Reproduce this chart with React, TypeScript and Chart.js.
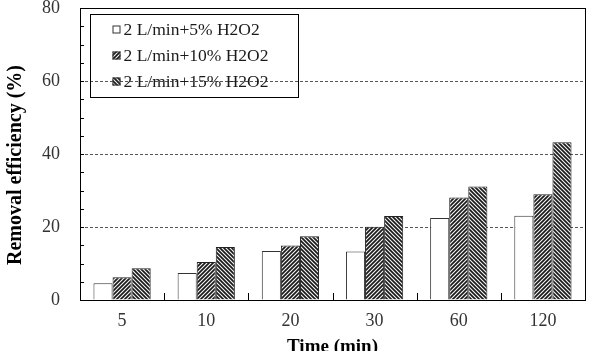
import { useEffect, useRef } from "react";
import { Chart, registerables } from "chart.js";
Chart.register(...registerables);

const categories = ["5", "10", "20", "30", "60", "120"];
const seriesLabels = ["2 L/min+5% H2O2", "2 L/min+10% H2O2", "2 L/min+15% H2O2"];
const series5 = [4.6, 7.4, 13.4, 13.3, 22.5, 23.1];
const series10 = [6.2, 10.4, 14.9, 20.1, 28.1, 29.0];
const series15 = [8.7, 14.5, 17.5, 23.0, 31.1, 43.2];
const yTicks = [0, 20, 40, 60, 80];
const yMinorStep = 5;
const yTitle = "Removal efficiency (%)";
const xTitle = "Time (min)";

const SERIF = "'Liberation Serif', 'Times New Roman', serif";

function hatch(dir: number) {
  const s = 4;
  const c = document.createElement("canvas");
  c.width = s;
  c.height = s;
  const g = c.getContext("2d")!;
  g.fillStyle = "#f4f4f4";
  g.fillRect(0, 0, s, s);
  g.strokeStyle = "#1a1a1a";
  g.lineWidth = 1.7;
  g.beginPath();
  if (dir === 1) {
    g.moveTo(-1, s + 1); g.lineTo(s + 1, -1);
    g.moveTo(-1, 1); g.lineTo(1, -1);
    g.moveTo(s - 1, s + 1); g.lineTo(s + 1, s - 1);
  } else {
    g.moveTo(-1, -1); g.lineTo(s + 1, s + 1);
    g.moveTo(s - 1, -1); g.lineTo(s + 1, 1);
    g.moveTo(-1, s - 1); g.lineTo(1, s + 1);
  }
  g.stroke();
  return g.createPattern(c, "repeat")!;
}

const framePlugin = {
  id: "frameAndTicks",
  afterDatasetsDraw(chart: any) {
    const { ctx, chartArea } = chart;
    const { left, right, top, bottom } = chartArea;
    const y = chart.scales.y;
    const x = chart.scales.x;
    ctx.save();
    ctx.strokeStyle = "#000";
    ctx.lineWidth = 1;
    ctx.strokeRect(Math.round(left) + 0.5, Math.round(top) + 0.5, Math.round(right - left), Math.round(bottom - top));
    ctx.beginPath();
    for (let v = yMinorStep; v < y.max; v += yMinorStep) {
      const py = Math.round(y.getPixelForValue(v)) + 0.5;
      ctx.moveTo(left, py);
      ctx.lineTo(left + 4, py);
    }
    for (let i = 0; i < categories.length - 1; i++) {
      const px = Math.round(x.getPixelForValue(i + 0.5)) + 0.5;
      ctx.moveTo(px, bottom);
      ctx.lineTo(px, bottom - 7);
    }
    ctx.stroke();
    ctx.restore();
  },
  afterDraw(chart: any) {
    const { ctx, chartArea } = chart;
    // y-axis title
    ctx.save();
    ctx.translate(16, (chartArea.top + chartArea.bottom) / 2 + 11);
    ctx.rotate(-Math.PI / 2);
    ctx.font = "bold 20px " + SERIF;
    ctx.textAlign = "center";
    ctx.textBaseline = "middle";
    ctx.fillStyle = "#000";
    ctx.fillText(yTitle, 0, 0);
    ctx.restore();
    // legend
    const bx = chartArea.left + 10.5;
    const by = chartArea.top + 6.5;
    const bw = 208;
    const bh = 83;
    ctx.save();
    ctx.strokeStyle = "#000";
    ctx.lineWidth = 1;
    ctx.strokeRect(bx, by, bw, bh);
    ctx.font = "17.5px " + SERIF;
    ctx.textBaseline = "middle";
    chart.data.datasets.forEach((ds: any, i: number) => {
      const cy = by + 15 + i * 26;
      ctx.fillStyle = ds.backgroundColor;
      ctx.fillRect(bx + 22, cy - 4, 8, 8);
      ctx.strokeStyle = "#333";
      ctx.strokeRect(bx + 22.5, cy - 3.5, 7, 7);
      ctx.fillStyle = "#1a1a1a";
      ctx.fillText(ds.label, bx + 33, cy + 1);
    });
    ctx.restore();
  },
};

export default function App() {
  const ref = useRef<HTMLCanvasElement>(null);
  useEffect(() => {
    document.body.style.margin = "0";
    const canvas = ref.current!;
    const chart = new Chart(canvas, {
      type: "bar",
      data: {
        labels: categories,
        datasets: [
          { label: seriesLabels[0], data: series5, backgroundColor: "#ffffff", borderColor: "#333", borderWidth: 1 },
          { label: seriesLabels[1], data: series10, backgroundColor: hatch(1) as any, borderColor: "#222", borderWidth: 1 },
          { label: seriesLabels[2], data: series15, backgroundColor: hatch(-1) as any, borderColor: "#222", borderWidth: 1 },
        ],
      },
      options: {
        animation: false,
        responsive: false,
        layout: { padding: { top: 8, right: 9, left: 0, bottom: 0 } },
        datasets: { bar: { categoryPercentage: 0.68, barPercentage: 1.0 } },
        plugins: { legend: { display: false }, tooltip: { enabled: false } },
        scales: {
          x: {
            grid: { display: false, drawTicks: false },
            border: { display: false },
            ticks: { color: "#333", font: { family: SERIF, size: 18 }, padding: 10 },
            title: {
              display: true,
              text: xTitle,
              color: "#000",
              font: { family: SERIF, size: 19, weight: "bold" },
              padding: { top: 0, bottom: 2 },
            },
            afterFit: (s: any) => {
              s.height = 60;
              s.paddingLeft = 0;
              s.paddingRight = 0;
            },
          },
          y: {
            min: 0,
            max: 80,
            afterBuildTicks: (s: any) => {
              s.ticks = yTicks.map((v) => ({ value: v }));
            },
            grid: {
              drawTicks: false,
              color: (c: any) => (c.tick && c.tick.value > 0 && c.tick.value < 80 ? "#555" : "rgba(0,0,0,0)"),
              lineWidth: 1,
            },
            border: { display: false, dash: [3, 2] },
            ticks: { color: "#333", font: { family: SERIF, size: 18 }, padding: 20 },
            title: { display: false },
            afterFit: (s: any) => {
              s.width = 80;
              s.paddingTop = 0;
              s.paddingBottom = 0;
            },
          },
        },
      },
      plugins: [framePlugin],
    });
    return () => chart.destroy();
  }, []);
  return (
    <div style={{ width: 594, height: 360, overflow: "hidden" }}>
      <canvas ref={ref} width={594} height={360} style={{ display: "block" }} />
    </div>
  );
}
